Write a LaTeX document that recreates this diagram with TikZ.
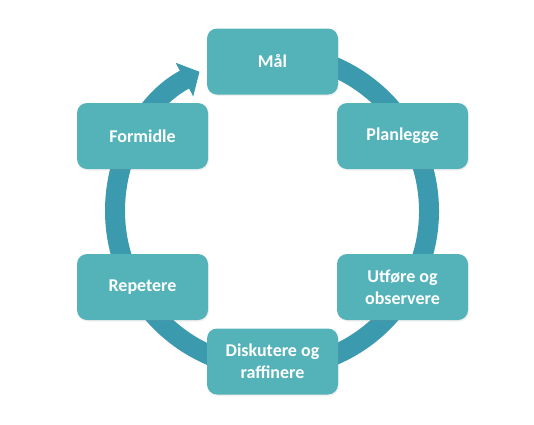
\documentclass[tikz,border=0pt]{standalone}
\usepackage{fontspec}
\setmainfont{Carlito}
\usepackage{tikz}
\usetikzlibrary{arrows.meta}
\usetikzlibrary{shadows}
\usetikzlibrary{calc}
\definecolor{boxteal}{HTML}{54B3B9}
\definecolor{ringteal}{HTML}{3C9AAF}
\tikzset{stage/.style={fill=boxteal,rounded corners=10pt,minimum width=131pt,minimum height=66pt,align=center,text=white,font=\fontsize{18}{22}\selectfont\bfseries,drop shadow={opacity=0.12,shadow xshift=1pt,shadow yshift=-1.5pt}}}
\tikzset{ring/.style={draw=ringteal,line width=20pt,-{Triangle[width=37pt,length=17pt]}}}

\begin{document}
\begin{tikzpicture}[x=1pt,y=-1pt]
            \useasboundingbox (0,0) rectangle (534,424);
            \coordinate (hub) at (272,211);
            \draw[ring] ($(hub)+(-95:157)$) arc[start angle=-95,end angle=242.5,radius=157];
            \node[stage] (maal) at (272.5,61.5) {Mål};
            \node[stage] (planlegge) at (402.5,136) {Planlegge};
            \node[stage] (utfore) at (402.5,287) {Utføre og\\observere};
            \node[stage] (diskutere) at (272.5,361.5) {Diskutere og\\raffinere};
            \node[stage] (repetere) at (142.5,287) {Repetere};
            \node[stage] (formidle) at (142.5,136) {Formidle};
          \end{tikzpicture}
\end{document}
